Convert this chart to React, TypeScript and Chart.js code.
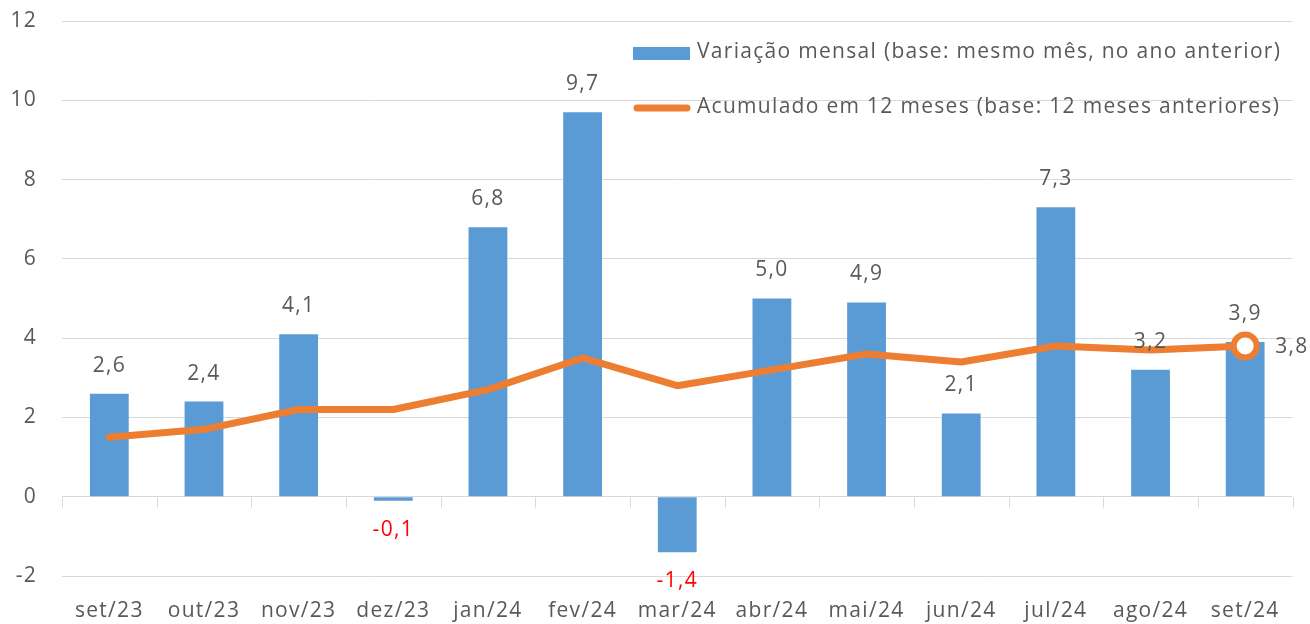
import React, { useEffect, useRef } from "react";
import { Chart, registerables } from "chart.js";

Chart.register(...registerables);

const categories = ["set/23", "out/23", "nov/23", "dez/23", "jan/24", "fev/24", "mar/24", "abr/24", "mai/24", "jun/24", "jul/24", "ago/24", "set/24"];
const monthlyValues = [2.6, 2.4, 4.1, -0.1, 6.8, 9.7, -1.4, 5.0, 4.9, 2.1, 7.3, 3.2, 3.9];
const accumulatedValues = [1.5, 1.7, 2.2, 2.2, 2.7, 3.5, 2.8, 3.2, 3.6, 3.4, 3.8, 3.7, 3.8];
const legendLabels = [
  "Variação mensal (base: mesmo mês, no ano anterior)",
  "Acumulado em 12 meses (base: 12 meses anteriores)",
];
const yMin = -2;
const yMax = 12;
const yStep = 2;

const FONT = "'Open Sans', 'DejaVu Sans', sans-serif";
const FONT_SIZE = 21;
const SPACING = "1.3px";
const TEXT = "#595959";
const BLUE = "#5B9BD5";
const ORANGE = "#ED7D31";
const GRID = "#d9d9d9";

const fmt = (v: number) => v.toFixed(1).replace(".", ",");

const spacingPlugin = {
  id: "spacing",
  beforeLayout(chart: any) {
    (chart.ctx as any).letterSpacing = SPACING;
  },
  beforeDraw(chart: any) {
    (chart.ctx as any).letterSpacing = SPACING;
  },
};

const extrasPlugin = {
  id: "extras",
  afterDatasetsDraw(chart: any) {
    const ctx = chart.ctx;
    const y = chart.scales.y;
    const area = chart.chartArea;
    ctx.save();
    (ctx as any).letterSpacing = SPACING;
    // tick marks on zero line
    const y0 = Math.round(y.getPixelForValue(0)) + 0.5;
    const n = categories.length;
    const cw = (area.right - area.left) / n;
    ctx.strokeStyle = GRID;
    ctx.lineWidth = 1;
    for (let i = 0; i <= n; i++) {
      const px = Math.round(area.left + i * cw) + 0.5;
      ctx.beginPath();
      ctx.moveTo(px, y0);
      ctx.lineTo(px, y0 + 10);
      ctx.stroke();
    }
    // bar labels
    ctx.font = `${FONT_SIZE}px ${FONT}`;
    ctx.textAlign = "center";
    ctx.textBaseline = "middle";
    const barMeta = chart.getDatasetMeta(1);
    monthlyValues.forEach((v, i) => {
      const el = barMeta.data[i];
      if (!el) return;
      const top = y.getPixelForValue(v);
      if (v >= 0) {
        ctx.fillStyle = TEXT;
        ctx.fillText(fmt(v), el.x, top - 28);
      } else {
        ctx.fillStyle = "#FF0000";
        ctx.fillText(fmt(v), el.x, top + 29);
      }
    });
    // last line label
    const lineMeta = chart.getDatasetMeta(0);
    const last = lineMeta.data[accumulatedValues.length - 1];
    ctx.fillStyle = TEXT;
    ctx.textAlign = "left";
    ctx.fillText(fmt(accumulatedValues[accumulatedValues.length - 1]), last.x + 30, last.y + 1);

    // legend
    ctx.textAlign = "left";
    ctx.fillStyle = BLUE;
    ctx.fillRect(633, 47, 57, 13);
    ctx.fillStyle = TEXT;
    ctx.fillText(legendLabels[0], 697, 52);
    ctx.strokeStyle = ORANGE;
    ctx.lineWidth = 7;
    ctx.lineCap = "round";
    ctx.beginPath();
    ctx.moveTo(637, 108);
    ctx.lineTo(687, 108);
    ctx.stroke();
    ctx.fillStyle = TEXT;
    ctx.fillText(legendLabels[1], 697, 107);
    ctx.restore();
  },
};

export default function App() {
  const ref = useRef<HTMLCanvasElement | null>(null);
  useEffect(() => {
    document.body.style.margin = "0";
    const canvas = ref.current;
    if (!canvas) return;
    const chart = new Chart(canvas, {
      type: "bar",
      data: {
        labels: categories,
        datasets: [
          {
            type: "line",
            label: legendLabels[1],
            data: accumulatedValues,
            borderColor: ORANGE,
            borderWidth: 7,
            backgroundColor: "#ffffff",
            pointRadius: accumulatedValues.map((_, i) => (i === accumulatedValues.length - 1 ? 11.5 : 0)),
            pointBorderWidth: 6,
            pointBorderColor: ORANGE,
            pointBackgroundColor: "#ffffff",
            borderCapStyle: "round",
            borderJoinStyle: "round",
            tension: 0,
            order: 0,
          } as any,
          {
            type: "bar",
            label: legendLabels[0],
            data: monthlyValues,
            backgroundColor: BLUE,
            barPercentage: 0.82,
            categoryPercentage: 0.5,
            order: 1,
          },
        ],
      },
      options: {
        responsive: false,
        animation: false,
        maintainAspectRatio: false,
        layout: { padding: { top: 21, right: 17, left: 0, bottom: 0 } },
        plugins: {
          legend: { display: false },
          tooltip: { enabled: false },
        },
        scales: {
          x: {
            grid: { display: false, drawTicks: false },
            border: { display: false },
            ticks: { color: TEXT, font: { size: FONT_SIZE, family: FONT }, padding: 22, maxRotation: 0 },
            afterFit: (s: any) => {
              s.height = 48;
            },
          },
          y: {
            min: yMin,
            max: yMax,
            grid: { color: GRID, drawTicks: true, tickLength: 17, tickColor: "rgba(0,0,0,0)" },
            border: { display: false },
            ticks: { stepSize: yStep, color: TEXT, font: { size: FONT_SIZE, family: FONT }, padding: 8 },
            afterFit: (s: any) => {
              s.width = 62;
            },
          },
        },
      },
      plugins: [spacingPlugin, extrasPlugin],
    });
    return () => chart.destroy();
  }, []);
  return <canvas ref={ref} width={1310} height={624} style={{ display: "block" }} />;
}
